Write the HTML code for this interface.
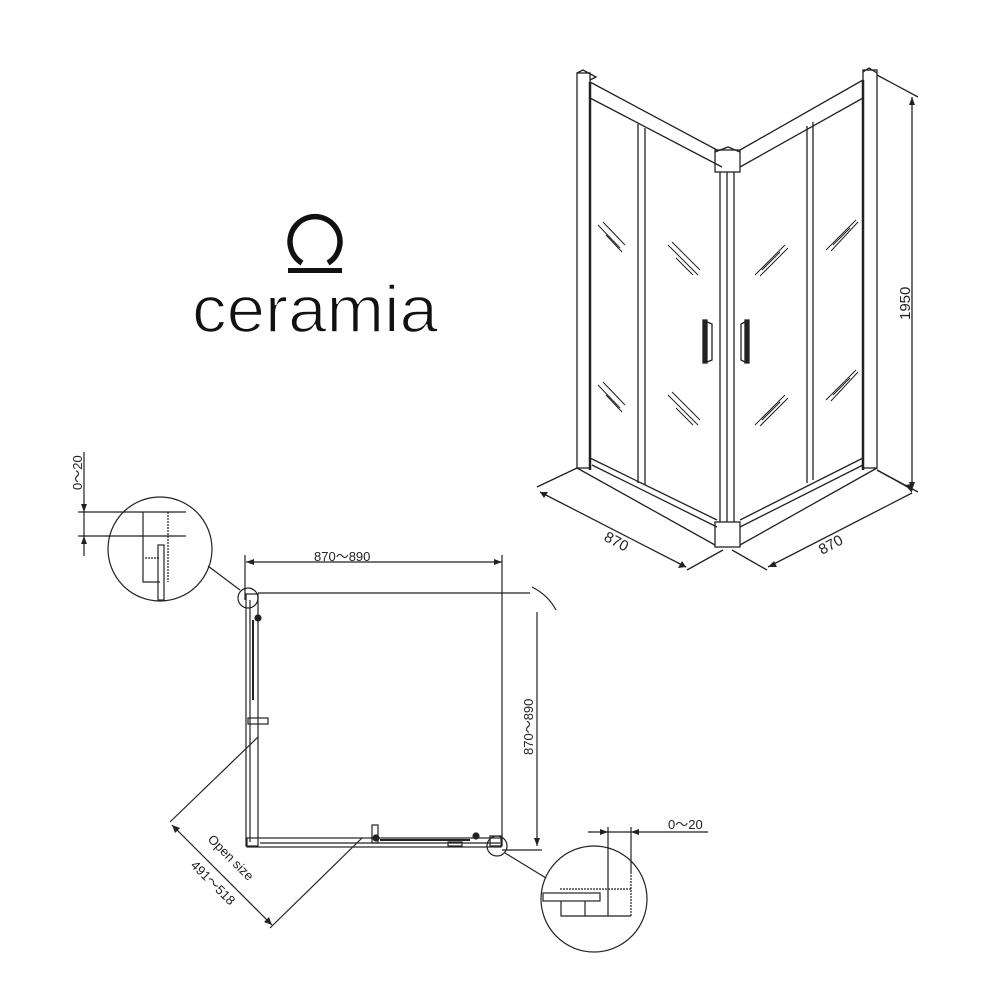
<!DOCTYPE html>
<html><head><meta charset="utf-8"><style>
html,body{margin:0;padding:0;background:#fff}
svg{display:block}
text{font-family:"Liberation Sans",sans-serif;fill:#222}
</style></head><body>
<svg width="1000" height="1000" viewBox="0 0 1000 1000" xmlns="http://www.w3.org/2000/svg">
<rect width="1000" height="1000" fill="#fff"/>
<g stroke="#111" fill="none" stroke-width="5.5">
<path d="M302 263 A25 25 0 1 1 328 263"/>
</g>
<rect x="288" y="268" width="54" height="5" fill="#111"/>
<text x="192" y="332" font-size="66" textLength="246" lengthAdjust="spacingAndGlyphs" style="fill:#111;stroke:#fff;stroke-width:1.6">ceramia</text>

<g stroke="#222" fill="none" stroke-width="1.3">
<rect x="577" y="73" width="13" height="395"/>
<path d="M577 73 L583 70 L596 77 L590 80"/>
<line x1="590" y1="82" x2="590" y2="470" stroke-width="2.5"/>
<path d="M590 82 L717 150"/>
<path d="M590 98 L722 167"/>
<rect x="715" y="150" width="25" height="22"/>
<path d="M715 152 L728 147 L740 152"/>
<line x1="720" y1="172" x2="720" y2="522"/>
<line x1="727" y1="172" x2="727" y2="522"/>
<line x1="734" y1="172" x2="734" y2="522"/>
<path d="M740 150 L863 80"/>
<path d="M740 167 L863 98"/>
<rect x="863" y="70" width="14" height="398"/>
<path d="M863 72 L869 68 L877 73"/>
<line x1="863" y1="80" x2="863" y2="470" stroke-width="2.5"/>
<line x1="638" y1="124" x2="638" y2="483"/><line x1="645" y1="128" x2="645" y2="485"/>
<line x1="807" y1="126" x2="807" y2="483"/><line x1="813" y1="122" x2="813" y2="480"/>
<path d="M590 458 L717 520"/><path d="M592 465 L717 527"/>
<path d="M740 520 L863 458"/><path d="M740 527 L863 465"/>
<rect x="715" y="522" width="25" height="25"/>
<path d="M577 468 L715 545"/><path d="M877 468 L740 545"/>
<line x1="537" y1="487" x2="577" y2="468"/>
<line x1="687" y1="570" x2="723" y2="550"/>
<line x1="540" y1="492" x2="686" y2="567"/>
<line x1="767" y1="570" x2="732" y2="550"/>
<line x1="913" y1="490" x2="877" y2="470"/>
<line x1="768" y1="567" x2="912" y2="493"/>
<line x1="877" y1="75" x2="918" y2="97"/>
<line x1="877" y1="470" x2="918" y2="492"/>
<line x1="912" y1="97" x2="912" y2="490"/>
<rect x="703" y="320" width="4" height="43" fill="#222"/>
<path d="M707 322 L712 324 L712 360 L707 362"/>
<rect x="745" y="320" width="4" height="43" fill="#222"/>
<path d="M745 322 L741 324 L741 360 L745 362"/>
<g stroke-width="1">
<path d="M598 225 L620 248 M603 222 L625 245 M606 235 L622 252"/>
<path d="M598 385 L620 408 M603 382 L625 405 M606 395 L622 412"/>
<path d="M668 245 L698 275 M672 242 L700 270 M676 258 L693 275"/>
<path d="M668 395 L698 425 M672 392 L700 420 M676 408 L693 425"/>
<path d="M755 275 L785 245 M760 276 L788 248 M762 270 L780 252"/>
<path d="M755 425 L785 395 M760 426 L788 398 M762 420 L780 402"/>
<path d="M826 250 L856 220 M831 251 L858 222 M833 245 L850 228"/>
<path d="M826 400 L856 370 M831 401 L858 372 M833 395 L850 378"/>
</g>
</g>
<g fill="#222">
<path d="M540 492 L548 492 L544 498 Z M686 567 L678 568 L682 561 Z M768 567 L774 561 L777 567 Z M912 493 L905 485 L912 484 Z M912 97 L909 105 L915 105 Z M912 490 L909 482 L915 482 Z"/>
</g>
<text transform="translate(603,540) rotate(28)" font-size="15">870</text>
<text transform="translate(822,555) rotate(-28)" font-size="15">870</text>
<text transform="translate(910,320) rotate(-90)" font-size="15">1950</text>

<g stroke="#222" fill="none" stroke-width="1.2">
<line x1="245" y1="555" x2="245" y2="600"/>
<line x1="502" y1="555" x2="502" y2="845"/>
<line x1="246" y1="562" x2="502" y2="562"/>
<line x1="258" y1="593" x2="530" y2="593"/>
<line x1="537" y1="612" x2="537" y2="846"/>
<line x1="502" y1="850" x2="542" y2="850"/>
<path d="M532 587 Q548 595 556 610"/>
<rect x="246" y="594" width="12" height="252"/>
<line x1="250" y1="600" x2="250" y2="842"/>
<line x1="253" y1="620" x2="253" y2="700" stroke-width="2"/>
<rect x="248" y="718" width="20" height="6"/>
<circle cx="258" cy="618" r="3" fill="#222"/>
<rect x="247" y="838" width="254" height="9"/>
<line x1="260" y1="843" x2="500" y2="843"/>
<line x1="380" y1="840" x2="470" y2="840" stroke-width="2"/>
<rect x="372" y="825" width="6" height="18"/>
<circle cx="376" cy="838" r="3" fill="#222"/>
<circle cx="476" cy="836" r="3" fill="#222"/>
<rect x="448" y="842" width="14" height="4"/>
<rect x="490" y="836" width="12" height="10"/>
<circle cx="248" cy="598" r="10"/>
<circle cx="497" cy="846" r="10"/>
<circle cx="160" cy="549" r="52"/>
<circle cx="594" cy="899" r="53"/>
<line x1="208" y1="566" x2="240" y2="590"/>
<line x1="505" y1="853" x2="546" y2="878"/>
<line x1="258" y1="737" x2="170" y2="822"/>
<line x1="362" y1="838" x2="270" y2="928"/>
<line x1="172" y1="825" x2="272" y2="925"/>
<line x1="84" y1="452" x2="84" y2="556"/>
<line x1="78" y1="512" x2="186" y2="512"/>
<line x1="78" y1="536" x2="186" y2="536"/>
<path d="M143 512 L143 582 L160 582"/>
<line x1="168" y1="512" x2="168" y2="582" stroke-dasharray="2 1"/>
<rect x="158" y="545" width="6" height="55"/>
<line x1="145" y1="558" x2="160" y2="558" stroke-dasharray="2 1"/>
<line x1="588" y1="832" x2="708" y2="832"/>
<line x1="608" y1="827" x2="608" y2="872"/>
<line x1="631" y1="827" x2="631" y2="872"/>
<line x1="560" y1="889" x2="631" y2="889" stroke-dasharray="2 1"/>
<rect x="543" y="893" width="57" height="8"/>
<path d="M561 901 L561 916 L631 916"/>
<line x1="608" y1="872" x2="608" y2="916"/>
<line x1="631" y1="872" x2="631" y2="916" stroke-dasharray="2 1"/>
<line x1="585" y1="901" x2="585" y2="916"/>
</g>
<g fill="#222">
<path d="M246 562 L254 559 L254 565 Z M502 562 L494 559 L494 565 Z M537 846 L534 838 L540 838 Z M172 825 L180 828 L175 833 Z M272 925 L264 922 L269 917 Z M84 512 L81 504 L87 504 Z M84 536 L81 544 L87 544 Z M608 832 L600 829 L600 835 Z M631 832 L639 829 L639 835 Z"/>
</g>
<text x="314" y="561" font-size="13">870～890</text>
<text transform="translate(533,755) rotate(-90)" font-size="13">870～890</text>
<text transform="translate(207,840) rotate(45)" font-size="13">Open size</text>
<text transform="translate(190,866) rotate(45)" font-size="13">491～518</text>
<text transform="translate(82,490) rotate(-90)" font-size="13">0～20</text>
<text x="668" y="829" font-size="13">0～20</text>
</svg>
</body></html>
